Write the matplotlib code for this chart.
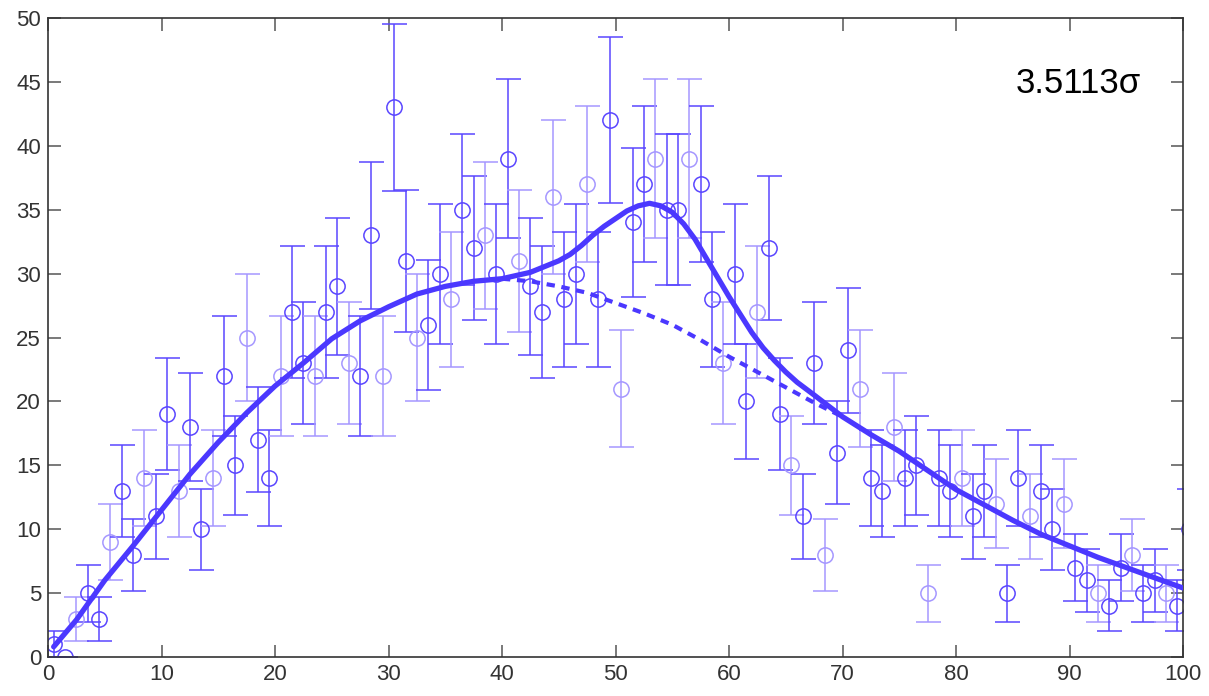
import numpy as np
import matplotlib.pyplot as plt

# Counts per unit bin (bin centres 0.5 .. 100.5).
counts = [1, 0, 3, 5, 3, 9, 13, 8, 14, 11,
          19, 13, 18, 10, 14, 22, 15, 25, 17, 14,
          22, 27, 23, 22, 27, 29, 23, 22, 33, 22,
          43, 31, 25, 26, 30, 28, 35, 32, 33, 30,
          39, 31, 29, 27, 36, 28, 30, 37, 28, 42,
          21, 34, 37, 39, 35, 35, 39, 37, 28, 23,
          30, 20, 27, 32, 19, 15, 11, 23, 8, 16,
          24, 21, 14, 13, 18, 14, 15, 5, 14, 13,
          14, 11, 13, 12, 5, 14, 11, 13, 10, 12,
          7, 6, 5, 4, 7, 8, 5, 6, 5, 4,
          10]
bin_x = np.arange(len(counts)) + 0.5

# Signal + background fit (solid).
fit_x = [0.5, 2.5, 5, 7.5, 10, 12.5, 15, 17.5, 20, 22.5, 25, 27.5, 30, 32.5,
         35, 37.5, 40, 42.5, 45, 46, 47, 48, 49, 50, 51, 52, 53, 54, 55, 56,
         57, 58, 59, 60, 61, 62, 63, 64, 65, 66, 67.5, 70, 72.5, 75, 77.5, 80,
         82.5, 85, 87.5, 90, 92.5, 95, 97.5, 100]
fit_y = [0.8, 2.9, 6.0, 8.7, 11.5, 14.3, 16.8, 19.1, 21.2, 23.0, 24.9, 26.3,
         27.4, 28.4, 29.0, 29.4, 29.6, 30.1, 31.0, 31.5, 32.2, 33.0, 33.7,
         34.3, 34.9, 35.3, 35.5, 35.3, 34.8, 33.9, 32.7, 31.2, 29.7, 28.2,
         26.8, 25.4, 24.2, 23.2, 22.3, 21.5, 20.5, 18.8, 17.4, 16.1, 14.6,
         13.1, 11.9, 10.7, 9.6, 8.7, 7.8, 7.0, 6.2, 5.4]

# Background-only curve (dashed) under the peak.
bkg_x = [40, 42.5, 45, 47.5, 50, 52.5, 55, 57.5, 60, 62.5, 65, 67.5, 70]
bkg_y = [29.6, 29.4, 29.0, 28.5, 27.7, 26.9, 26.0, 24.8, 23.5, 22.3, 21.1,
         19.9, 18.8]

significance = "3.5113\u03c3"

DARK = "#5a46ff"
LIGHT = "#a597ff"
CURVE = "#4b38ff"

plt.rcParams["font.family"] = ["Liberation Sans", "DejaVu Sans"]

fig = plt.figure(figsize=(12.09, 6.96), dpi=100)
ax = fig.add_axes([48 / 1209, 39 / 696, 1135 / 1209, 639 / 696])

errs = np.sqrt(counts)
for i, (x, n, e) in enumerate(zip(bin_x, counts, errs)):
    c = LIGHT if i % 3 == 2 else DARK
    ax.errorbar(x, n, yerr=e, fmt="o", ms=11, mfc="none", mec=c, mew=1.1,
                ecolor=c, elinewidth=1.1, capsize=9, capthick=1.1, zorder=2)

ax.plot(fit_x, fit_y, color=CURVE, lw=3.8, solid_capstyle="round",
        solid_joinstyle="round", zorder=3)
ax.plot(bkg_x, bkg_y, color=CURVE, lw=3.0, ls=(0, (2, 1.6)), zorder=3)

ax.text(85.3, 44.9, significance, fontsize=25, va="center", ha="left")

ax.set_xlim(0, 100)
ax.set_ylim(0, 50)
ax.set_xticks(range(0, 101, 10))
ax.set_yticks(range(0, 51, 5))
ax.tick_params(direction="in", length=9, width=1.1, color="#555555",
               labelcolor="#333333", labelsize=16, top=True, right=True, pad=5)
for s in ax.spines.values():
    s.set_color("#333333")
    s.set_linewidth(1.2)

fig.savefig("out.png", dpi=100)
